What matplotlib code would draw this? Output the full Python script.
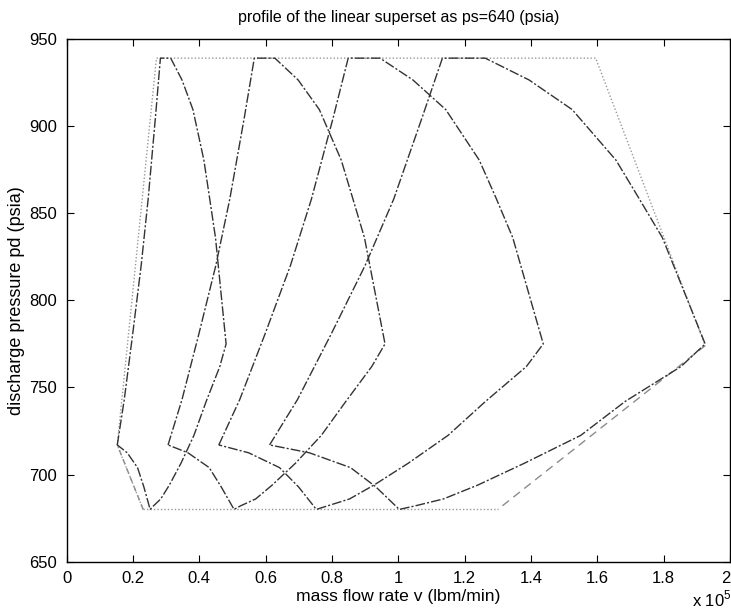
# profile of the linear superset, ps = 640 psia
import matplotlib
matplotlib.use("Agg")
import matplotlib.pyplot as plt

plt.rcParams['font.family'] = ['Liberation Sans', 'DejaVu Sans']
plt.rcParams['mathtext.fontset'] = 'custom'
plt.rcParams['mathtext.rm'] = 'Liberation Sans'

# === 1. data (mass flow in 1e5 lbm/min, pressure in psia) ===
# shared discharge pressure levels going round each profile
pd_levels = [717, 743, 780, 820, 858, 905, 939, 939, 926.5, 909.5, 880.5, 859, 836, 775,
             762, 742, 722.5, 706.5, 694, 686, 682, 680, 693, 704, 712.5, 717]

flow_speed1 = [0.153, 0.174, 0.199, 0.225, 0.246, 0.268, 0.283, 0.314, 0.348, 0.381, 0.414,
               0.431, 0.449, 0.481, 0.462, 0.421, 0.384, 0.345, 0.310, 0.284, 0.262, 0.252,
               0.233, 0.214, 0.183, 0.153]
flow_speed2 = [0.306, 0.348, 0.398, 0.450, 0.492, 0.536, 0.566, 0.628, 0.698, 0.762, 0.828,
               0.862, 0.898, 0.960, 0.920, 0.842, 0.768, 0.690, 0.620, 0.570, 0.524, 0.505,
               0.466, 0.430, 0.366, 0.306]
flow_speed3 = [0.459, 0.522, 0.597, 0.675, 0.738, 0.804, 0.849, 0.945, 1.044, 1.143, 1.244,
               1.294, 1.345, 1.437, 1.386, 1.263, 1.150, 1.030, 0.927, 0.853, 0.786, 0.753,
               0.699, 0.642, 0.549, 0.459]
flow_speed4 = [0.612, 0.696, 0.796, 0.900, 0.986, 1.072, 1.133, 1.262, 1.394, 1.524, 1.656,
               1.724, 1.796, 1.925, 1.852, 1.684, 1.550, 1.380, 1.240, 1.136, 1.050, 1.003,
               0.932, 0.856, 0.732, 0.612]

# superset envelope: dotted part and dashed parts
env_dot_flow = [0.231, 0.153, 0.271, 1.595, 1.925]
env_dot_pd = [680, 717, 939, 939, 774]
env_bot_flow = [0.231, 1.300]
env_bot_pd = [680, 680]
env_dash_flow = [1.925, 1.300]
env_dash_pd = [774, 680]
env_dash2_flow = [0.231, 0.153]
env_dash2_pd = [680, 717]

xticks = [0, 0.2, 0.4, 0.6, 0.8, 1.0, 1.2, 1.4, 1.6, 1.8, 2.0]
xtick_labels = ["0", "0.2", "0.4", "0.6", "0.8", "1", "1.2", "1.4", "1.6", "1.8", "2"]
yticks = [650, 700, 750, 800, 850, 900, 950]

# === 2. figure ===
fig = plt.figure(figsize=(7.31, 6.11), dpi=100)
ax = fig.add_axes([0.091, 0.0807, 0.9077, 0.8555])

ax.plot(env_dot_flow, env_dot_pd, color='0.6', lw=1.0, linestyle=(0, (1, 1.5)))
ax.plot(env_bot_flow, env_bot_pd, color='0.6', lw=1.0, linestyle=(0, (1, 1.5)))
ax.plot(env_dash_flow, env_dash_pd, color='0.55', lw=1.0, linestyle=(0, (6, 4)))
ax.plot(env_dash2_flow, env_dash2_pd, color='0.55', lw=1.0, linestyle=(0, (4, 3)))

for flow in [flow_speed1, flow_speed2, flow_speed3, flow_speed4]:
    ax.plot(flow, pd_levels, color='0.2', lw=1.0, linestyle=(0, (7, 1.5, 1.5, 1.5)))

# === 3. axes ===
ax.set_xlim(0, 2)
ax.set_ylim(650, 950)
ax.set_xticks(xticks)
ax.set_xticklabels(xtick_labels)
ax.set_yticks(yticks)
ax.tick_params(direction='in', length=5, width=0.8, top=True, right=True,
               labelsize=12, pad=7)
# last label would run off the right edge, pull it inside
ax.get_xticklabels()[-1].set_horizontalalignment('right')
for s in ax.spines.values():
    s.set_linewidth(1.0)
    s.set_color('black')

ax.set_xlabel("mass flow rate v (lbm/min)", fontsize=12.6, labelpad=2)
ax.set_ylabel("discharge pressure pd (psia)", fontsize=13, labelpad=2.5)
ax.set_title("profile of the linear superset as ps=640 (psia)", fontsize=11.5, pad=12.5)

fig.text(0.947, 0.003, r"x 10$^{5}$", fontsize=12, ha='left', va='bottom')

plt.savefig("out.png", dpi=100)
